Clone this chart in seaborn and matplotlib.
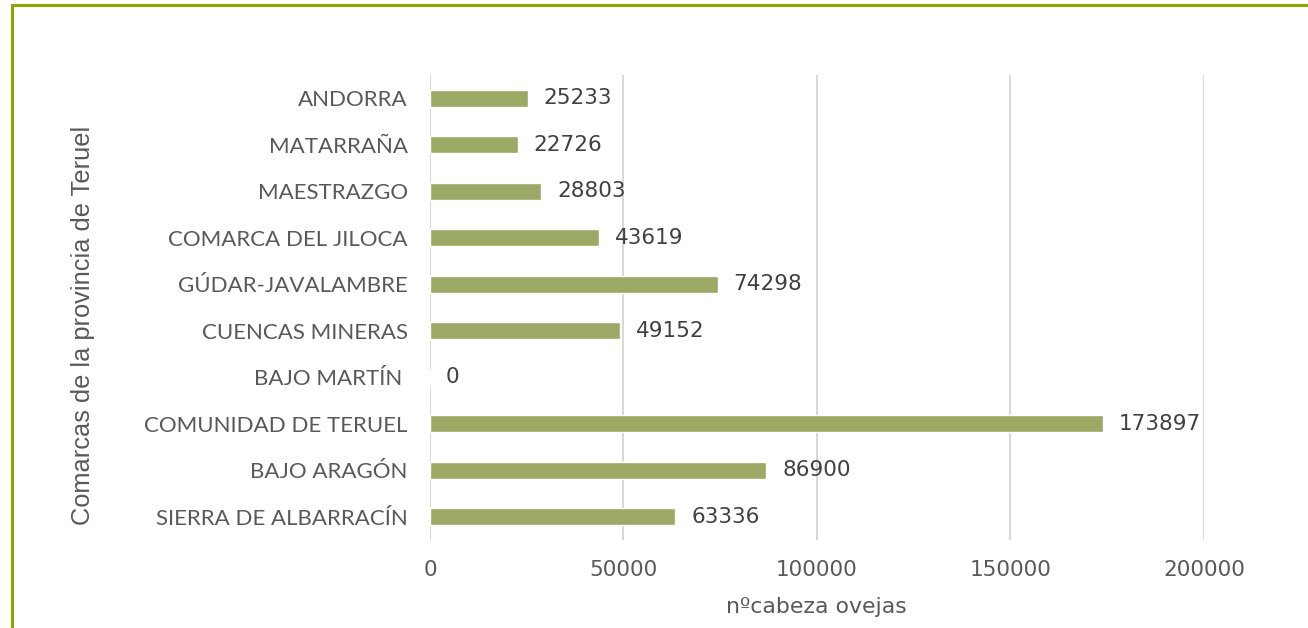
import matplotlib
matplotlib.use("Agg")
import matplotlib.pyplot as plt
import seaborn as sns
import pandas as pd

comarcas = [
    "ANDORRA",
    "MATARRAÑA",
    "MAESTRAZGO",
    "COMARCA DEL JILOCA",
    "GÚDAR-JAVALAMBRE",
    "CUENCAS MINERAS",
    "BAJO MARTÍN ",
    "COMUNIDAD DE TERUEL",
    "BAJO ARAGÓN",
    "SIERRA DE ALBARRACÍN",
]
ovejas = [25233, 22726, 28803, 43619, 74298, 49152, 0, 173897, 86900, 63336]
x_ticks = [0, 50000, 100000, 150000, 200000]

df = pd.DataFrame({"comarca": comarcas, "ovejas": ovejas})

sns.set_style("white")
plt.rcParams["font.family"] = ["DejaVu Sans"]
text_color = "#595959"

fig = plt.figure(figsize=(13.08, 6.28), dpi=100)
ax = fig.add_axes([0.3287, 0.140, 0.5918, 0.7406])

sns.barplot(data=df, x="ovejas", y="comarca", color="#9BA964", width=0.36,
            saturation=1, ax=ax)

ax.set_xlim(0, 200000)
ax.set_xticks(x_ticks)
ax.xaxis.grid(True, color="#D9D9D9", linewidth=1.5)
ax.set_axisbelow(True)
for s in ax.spines.values():
    s.set_visible(False)
ax.tick_params(axis="both", length=0, colors=text_color)
ax.tick_params(axis="x", labelsize=15.5, pad=14)
ax.tick_params(axis="y", pad=16)
for lbl in ax.get_yticklabels():
    lbl.set_fontfamily(["Lato", "DejaVu Sans"])
    lbl.set_fontsize(16)
for lbl in ax.get_xticklabels() + ax.get_yticklabels():
    lbl.set_color(text_color)

# data labels
for cont in ax.containers:
    ax.bar_label(cont, labels=[str(v) for v in ovejas], padding=11.5,
                 fontsize=15.5, color="#404040")

ax.set_xlabel("nºcabeza ovejas", fontsize=15.8, color=text_color, va="center")
ax.xaxis.set_label_coords(0.4987, -0.144)
ax.set_ylabel("Comarcas de la provincia de Teruel", fontsize=18.3,
              color=text_color, family=["Liberation Sans", "DejaVu Sans"],
              va="center")
ax.yaxis.set_label_coords(-0.448, 0.462)

# green frame (only top/left visible in the original crop)
fig.add_artist(plt.Line2D([0.0092, 0.0092], [0, 0.992], transform=fig.transFigure,
                          color="#8BA600", linewidth=2.2))
fig.add_artist(plt.Line2D([0.0092, 1], [0.992, 0.992], transform=fig.transFigure,
                          color="#8BA600", linewidth=2.2))

fig.savefig("out.png", dpi=100)
